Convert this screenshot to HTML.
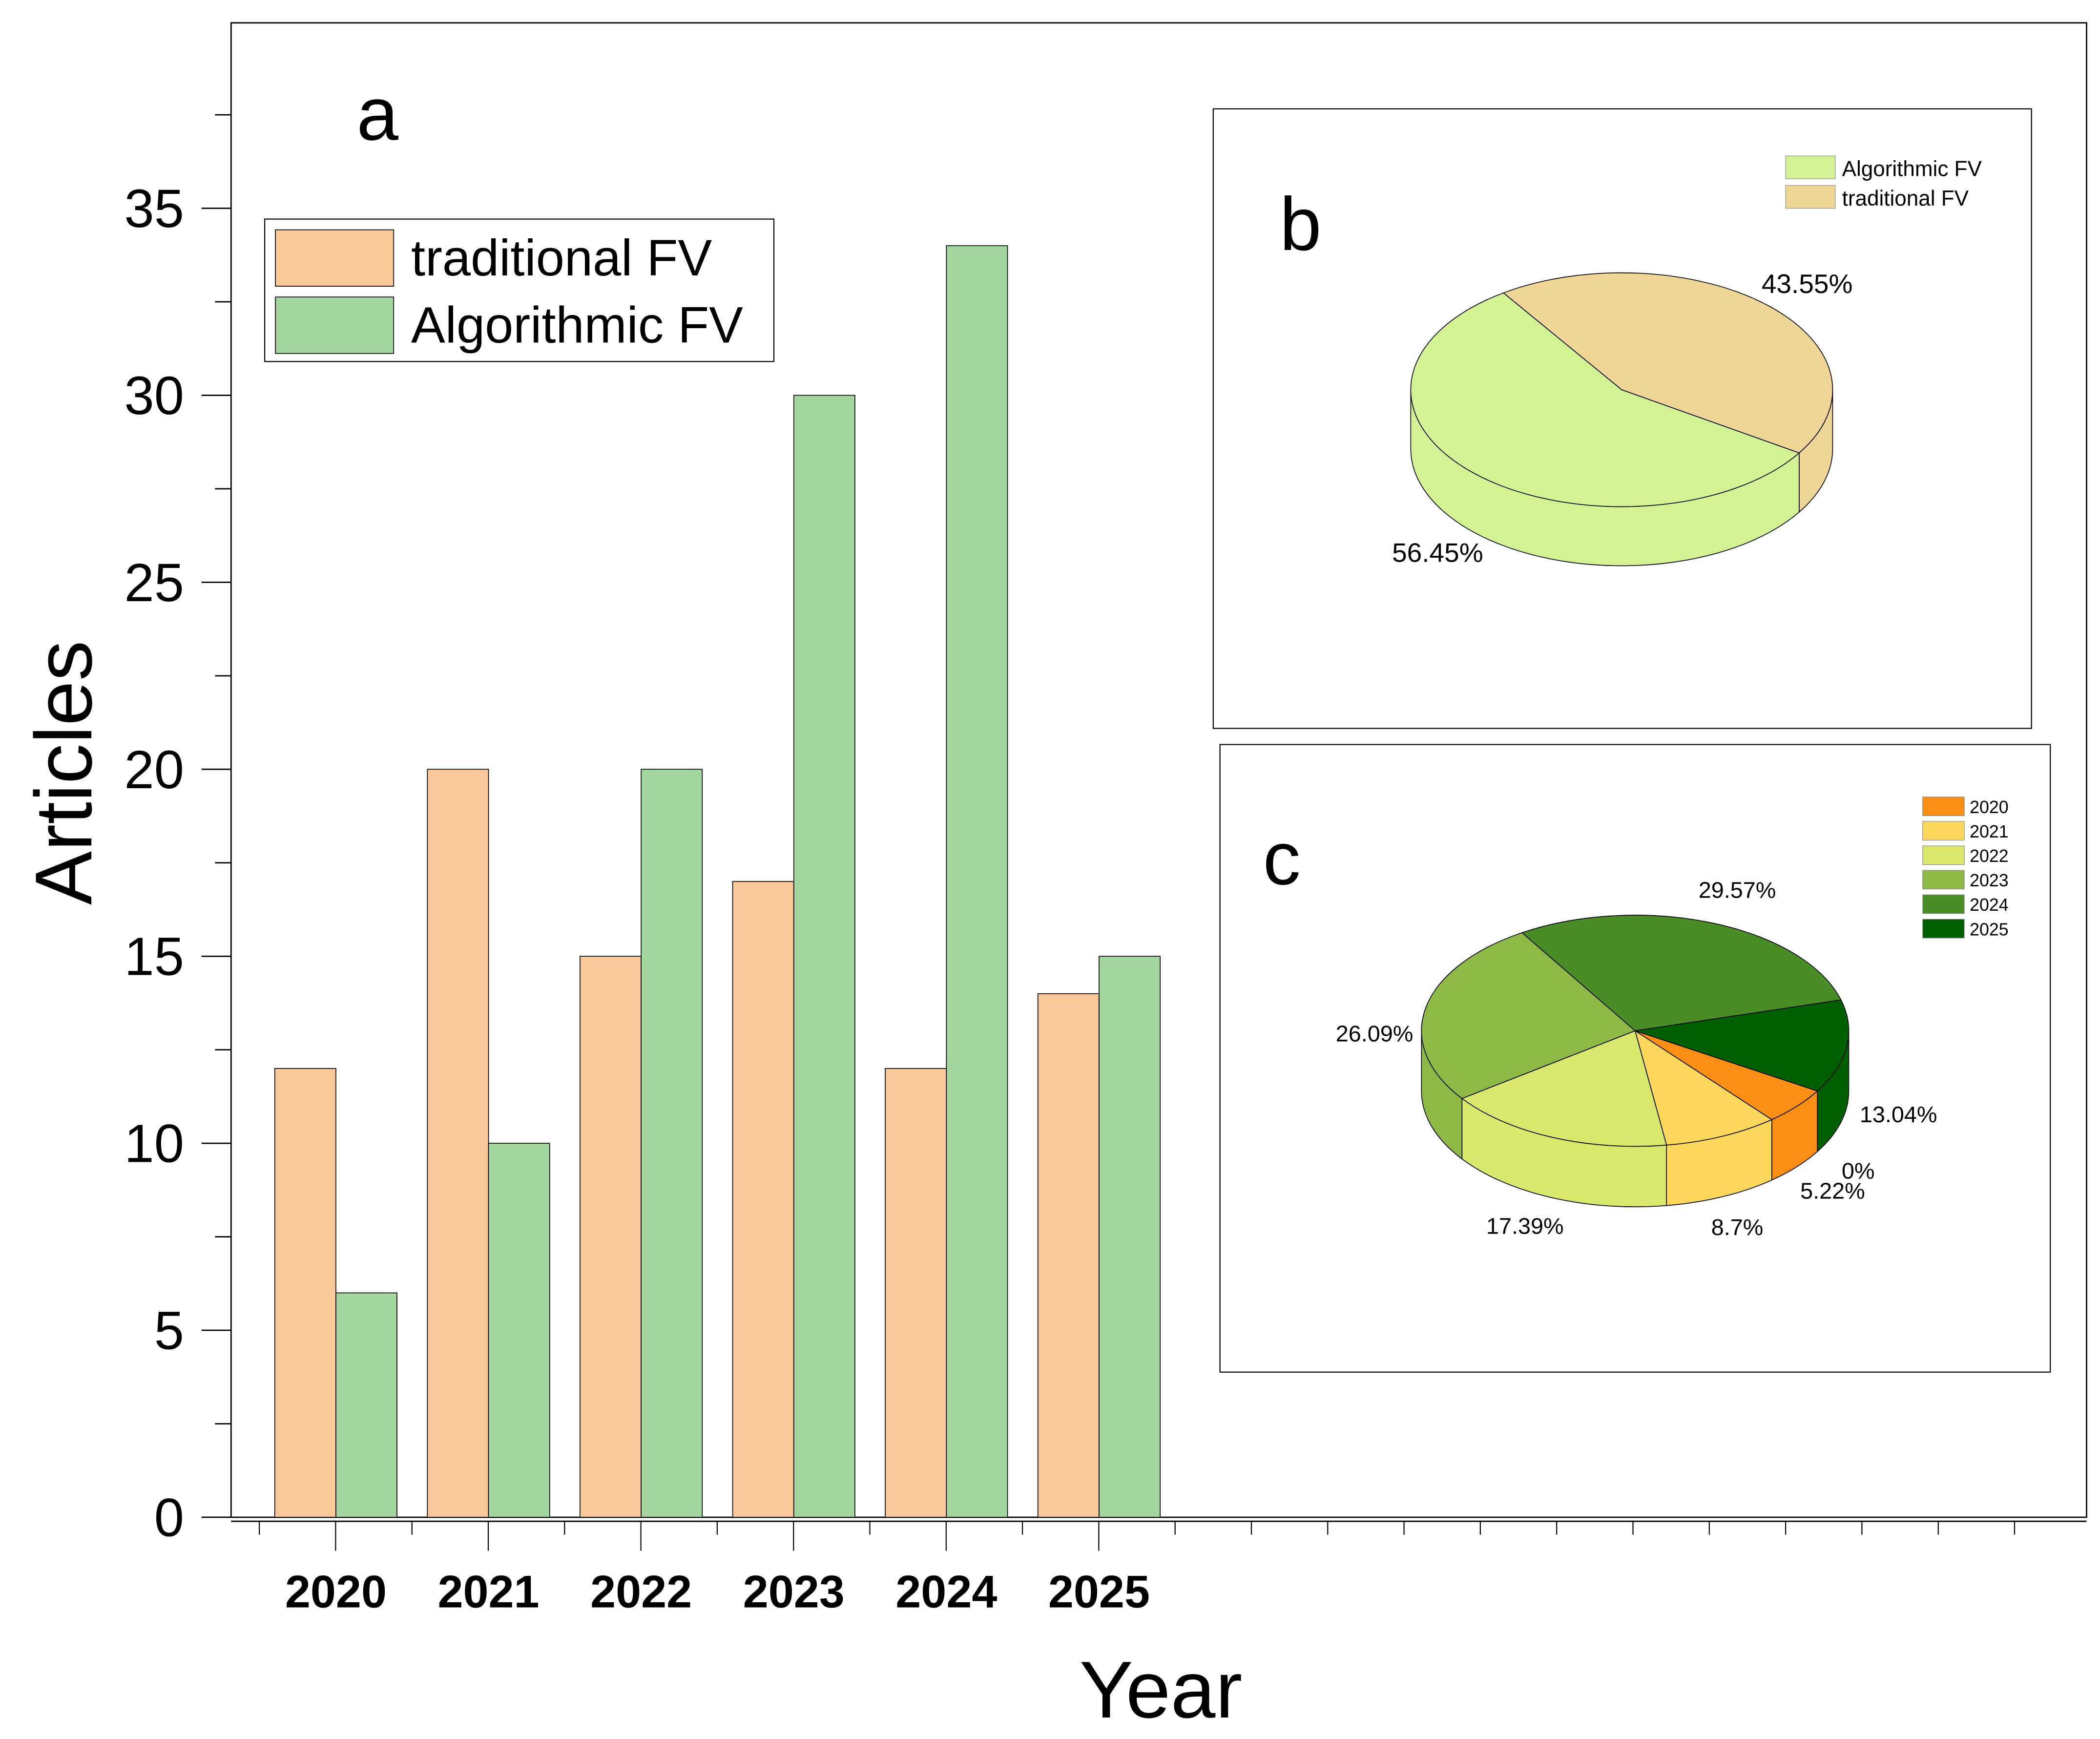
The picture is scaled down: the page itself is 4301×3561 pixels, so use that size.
<!DOCTYPE html>
<html><head><meta charset="utf-8"><style>
html,body{margin:0;padding:0;background:#fff}
svg{display:block}
text{font-family:"Liberation Sans",Arial,sans-serif}
</style></head><body>
<svg id="chart" width="4301" height="3561" viewBox="0 0 1563 1294" preserveAspectRatio="none" xmlns="http://www.w3.org/2000/svg">
<g id="bar"></g>
<g id="pieb"></g>
<g id="piec"></g>
</svg>
<script>
const categories = ["2020","2021","2022","2023","2024","2025"];
const traditionalValues = [12,20,15,17,12,14];
const algorithmicValues = [6,10,20,30,34,15];
const yTickLabels = [0,5,10,15,20,25,30,35];
const pieBLabels = ["Algorithmic FV","traditional FV"];
const pieBValues = [56.45,43.55];
const pieCLabels = ["2020","2021","2022","2023","2024","2025"];
const pieCValues = [5.22,8.7,17.39,26.09,29.57,13.04];

const NS="http://www.w3.org/2000/svg";
function mk(parent,tag,attrs,txt){const e=document.createElementNS(NS,tag);for(const k in attrs)e.setAttribute(k,attrs[k]);if(txt!==undefined)e.textContent=txt;parent.appendChild(e);return e;}

// ---------- panel a ----------
const A=document.getElementById('bar');
const X0=172,X1=1553,Y0=1129,YT=17;
const yScale=v=>Y0-v*(1129-155)/35;
const xCenter=i=>250+i*113.6;
const half=45.5;
let e;
e=mk(A,'rect',{x:X0,y:YT,width:X1-X0,height:Y0-YT,fill:'none',stroke:'#000','stroke-width':1});

mk(A,'line',{x1:X0,y1:Y0+3,x2:X1,y2:Y0+3,stroke:'#000','stroke-width':1});
for(let v=0;v<=37.5;v+=2.5){
  const y=yScale(v);const major=(v%5===0);
  e=mk(A,'line',{x1:major?150:160,y1:y,x2:X0,y2:y,stroke:'#000','stroke-width':1});
  
}
yTickLabels.forEach(v=>{
  e=mk(A,'text',{x:137,y:yScale(v)+14,'font-size':40,'text-anchor':'end'},String(v));
  
});
for(let k=0;k<24;k++){
  const x=193+k*56.8;const major=(k%2===1)&&k<12;
  e=mk(A,'line',{x1:x,y1:Y0+3,x2:x,y2:Y0+(major?25:13),stroke:'#000','stroke-width':0.8});
  
}
categories.forEach((c,i)=>{
  const cx=xCenter(i);
  e=mk(A,'rect',{x:cx-half,y:yScale(traditionalValues[i]),width:half,height:Y0-yScale(traditionalValues[i]),fill:'#f9c898',stroke:'#000','stroke-width':0.6});
  
  e=mk(A,'rect',{x:cx,y:yScale(algorithmicValues[i]),width:half,height:Y0-yScale(algorithmicValues[i]),fill:'#a2d69e',stroke:'#000','stroke-width':0.6});
  
  e=mk(A,'text',{x:cx,y:1196,'font-size':34,'font-weight':'bold','text-anchor':'middle'},c);
  
});
e=mk(A,'text',{x:281,y:104,'font-size':56,'text-anchor':'middle'},'a');

e=mk(A,'text',{x:0,y:0,'font-size':60,'text-anchor':'middle',transform:'translate(68,575) rotate(-90)'},'Articles');

e=mk(A,'text',{x:864,y:1278,'font-size':60,'text-anchor':'middle'},'Year');

const LG=mk(A,'g',{});

mk(LG,'rect',{x:197,y:163,width:379,height:106,fill:'#fff',stroke:'#000','stroke-width':0.8});
e=mk(LG,'rect',{x:205,y:171,width:88,height:42,fill:'#f9c898',stroke:'#000','stroke-width':0.6});

e=mk(LG,'text',{x:306,y:205,'font-size':38},'traditional FV');

e=mk(LG,'rect',{x:205,y:221,width:88,height:42,fill:'#a2d69e',stroke:'#000','stroke-width':0.6});

e=mk(LG,'text',{x:306,y:255,'font-size':38},'Algorithmic FV');


function pie3d(G,cx,cy,rx,ry,d,values,colors,startDeg,names){
  const total=values.reduce((a,b)=>a+b,0);
  const P=(t,dy)=>[cx+rx*Math.cos(t*Math.PI/180),cy+dy+ry*Math.sin(t*Math.PI/180)];
  const segs=[];let a=startDeg;
  values.forEach((v,i)=>{const b=a+v/total*360;segs.push([a,b]);a=b;});
  segs.forEach(([s,t],i)=>{
    for(let k=-1;k<=1;k++){
      const lo=Math.max(s,k*360),hi=Math.min(t,k*360+180);
      if(hi<=lo)continue;
      const p1=P(lo,0),p2=P(hi,0),p3=P(hi,d),p4=P(lo,d);
      const lg=(hi-lo)>180?1:0;
      e=mk(G,'path',{d:`M${p1}A${rx},${ry} 0 ${lg} 1 ${p2}L${p3}A${rx},${ry} 0 ${lg} 0 ${p4}Z`,fill:colors[i],stroke:'#000','stroke-width':0.6});
      
    }
  });
  segs.forEach(([s,t],i)=>{
    const p1=P(s,0),p2=P(t,0);const lg=(t-s)>180?1:0;
    e=mk(G,'path',{d:`M${cx},${cy}L${p1}A${rx},${ry} 0 ${lg} 1 ${p2}Z`,fill:colors[i],stroke:'#000','stroke-width':0.6});
    
  });
  return segs;
}

// ---------- panel b ----------
const B=document.getElementById('pieb');
e=mk(B,'rect',{x:903,y:81,width:609,height:461,fill:'#fff',stroke:'#000','stroke-width':0.8});

e=mk(B,'text',{x:968,y:186,'font-size':56,'text-anchor':'middle'},'b');

const colB=['#d2f294','#f0d696'];
pieBLabels.forEach((l,i)=>{
  e=mk(B,'rect',{x:1329,y:116+i*22,width:37,height:17,fill:colB[i],stroke:'#888','stroke-width':0.4});
  
  e=mk(B,'text',{x:1371,y:131+i*22,'font-size':16},l);
  
});
pie3d(B,1207,290,157,87,44,pieBValues,colB,32.7,['algorithmic','traditional']);
const labB=[[1070,418],[1345,218]];
pieBValues.forEach((v,i)=>{
  e=mk(B,'text',{x:labB[i][0],y:labB[i][1],'font-size':20,'text-anchor':'middle'},v.toFixed(2)+'%');
  
});

// ---------- panel c ----------
const C=document.getElementById('piec');
e=mk(C,'rect',{x:908,y:554,width:618,height:467,fill:'#fff',stroke:'#000','stroke-width':0.8});

e=mk(C,'text',{x:954,y:658,'font-size':56,'text-anchor':'middle'},'c');

const colC=['#fb8f16','#fdd75c','#d9e86c','#8fb947','#4a8d27','#005f00'];
pieCLabels.forEach((l,i)=>{
  e=mk(C,'rect',{x:1431,y:593+i*18.2,width:31,height:14,fill:colC[i],stroke:'#888','stroke-width':0.4});
  
  e=mk(C,'text',{x:1466,y:605+i*18.2,'font-size':13},l);
  
});
const order=[5,0,1,2,3,4];
pie3d(C,1217,767,159,86,45,order.map(i=>pieCValues[i]),order.map(i=>colC[i]),-15.5,order.map(i=>pieCLabels[i]));
// label anchor layout (per year 2020..2025)
const labC=[[1364,892],[1293,919],[1135,918],[1023,775],[1293,668],[1413,835]];
pieCValues.forEach((v,i)=>{
  e=mk(C,'text',{x:labC[i][0],y:labC[i][1],'font-size':17,'text-anchor':'middle'},v+'%');
  
});
e=mk(C,'text',{x:1383,y:877,'font-size':17,'text-anchor':'middle'},'0%');

</script>
</body></html>
